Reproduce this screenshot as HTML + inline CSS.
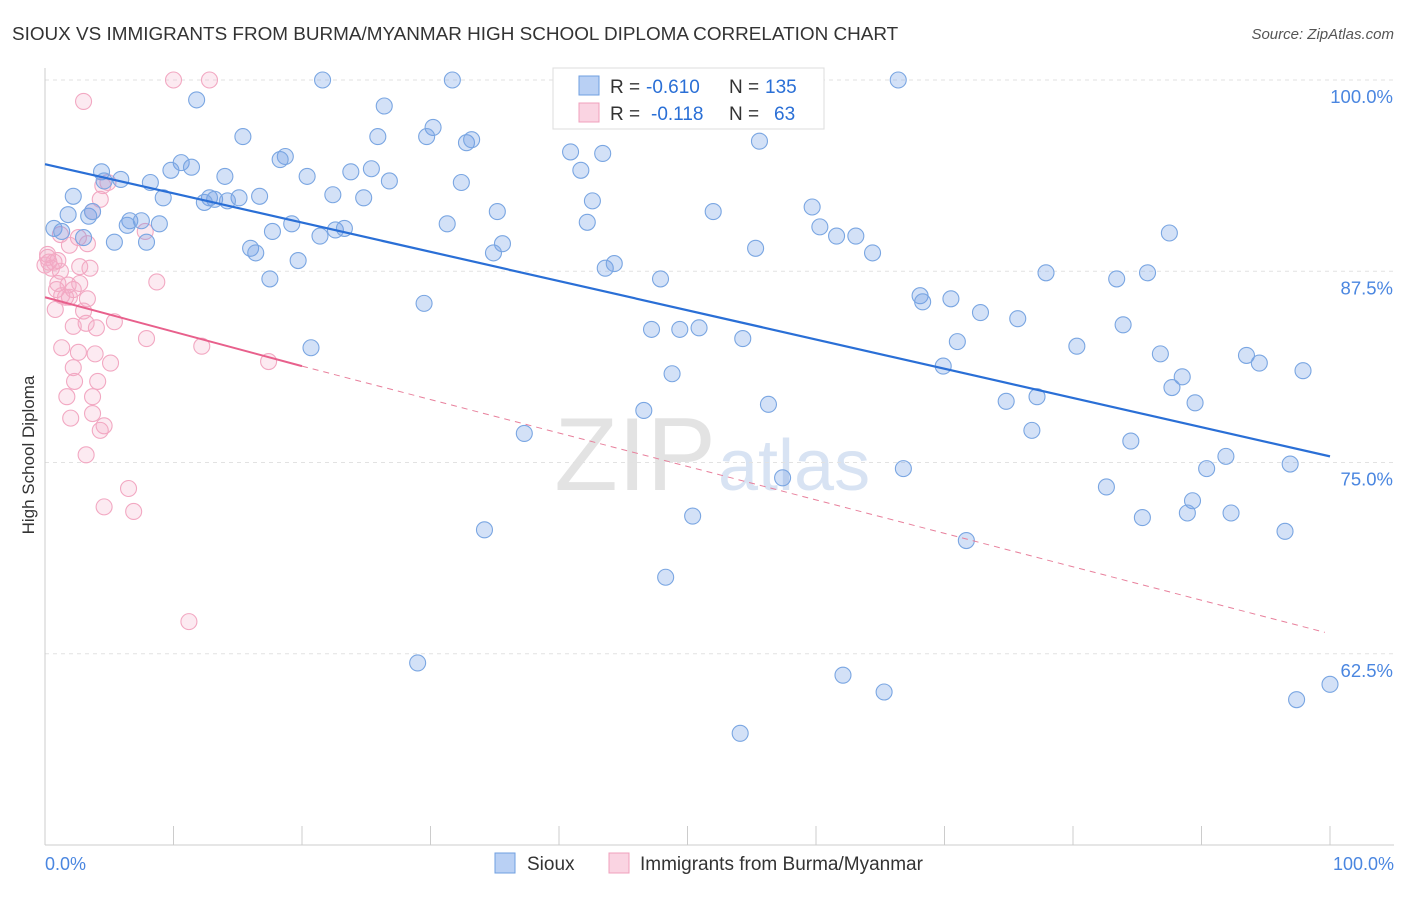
<!DOCTYPE html>
<html><head><meta charset="utf-8"><style>
body{margin:0;background:#fff;font-family:"Liberation Sans",sans-serif;}
svg text{font-family:"Liberation Sans",sans-serif;}
</style></head><body>
<svg id="chart" width="1406" height="892" xmlns="http://www.w3.org/2000/svg">
<text x="12" y="40" font-size="18.9" fill="#333">SIOUX VS IMMIGRANTS FROM BURMA/MYANMAR HIGH SCHOOL DIPLOMA CORRELATION CHART</text>
<text x="1394" y="39" font-size="15" fill="#555" text-anchor="end" font-style="italic">Source: ZipAtlas.com</text>
<text transform="translate(34,455) rotate(-90)" font-size="17" fill="#333" text-anchor="middle">High School Diploma</text>
<text x="716" y="490" font-size="104" fill="#ddd" text-anchor="end" font-family="Liberation Serif" opacity="0.8">ZIP</text>
<text x="718" y="490" font-size="72" fill="#c8d8ee" opacity="0.7">atlas</text>
<g id="grid"></g><g id="axes"></g><g id="pinkpts"></g><g id="bluepts"></g><g id="trends"></g>
<g>
<rect x="553" y="68" width="271" height="61" fill="#fff" stroke="#ddd"/>
<rect x="579" y="76" width="20" height="19" fill="rgba(100,150,230,0.45)" stroke="#6f9fe0"/>
<rect x="579" y="103" width="20" height="19" fill="rgba(245,160,190,0.45)" stroke="#f0a0bc"/>
<text x="610" y="93" font-size="19" fill="#333">R =</text>
<text x="646" y="93" font-size="19" fill="#2a6fd6">-0.610</text>
<text x="729" y="93" font-size="19" fill="#333">N =</text>
<text x="765" y="93" font-size="19" fill="#2a6fd6">135</text>
<text x="610" y="120" font-size="19" fill="#333">R =</text>
<text x="651" y="120" font-size="19" fill="#2a6fd6">-0.118</text>
<text x="729" y="120" font-size="19" fill="#333">N =</text>
<text x="774" y="120" font-size="19" fill="#2a6fd6">63</text>
</g>
<g>
<rect x="495" y="853" width="20" height="20" fill="rgba(100,150,230,0.45)" stroke="#6f9fe0"/>
<text x="527" y="870" font-size="19" fill="#333">Sioux</text>
<rect x="609" y="853" width="20" height="20" fill="rgba(245,160,190,0.45)" stroke="#f0a0bc"/>
<text x="640" y="870" font-size="19" fill="#333">Immigrants from Burma/Myanmar</text>
</g>
</svg>
<script>
const blueX=[21.6,31.7,45.4,66.4,11.8,26.4,30.2,15.4,25.9,29.7,32.8,33.2,55.6,40.9,43.4,10.6,4.4,9.8,11.4,18.7,18.3,25.4,23.8,20.4,14.0,5.9,4.6,8.2,26.8,32.4,41.7,2.2,9.2,12.8,15.1,16.7,13.2,12.4,14.2,22.4,24.8,42.6,1.8,3.4,3.7,6.6,7.5,6.4,8.9,35.2,52.0,59.7,0.7,1.3,3.0,5.4,7.9,17.7,19.2,21.4,22.6,23.3,31.3,42.2,60.3,61.6,63.1,87.5,16.0,16.4,35.6,34.9,55.3,64.4,19.7,17.5,43.6,44.3,47.9,77.9,83.4,85.8,29.5,68.1,68.3,70.5,72.8,75.7,47.2,49.4,50.9,54.3,71.0,83.9,20.7,80.3,86.8,93.5,94.5,69.9,97.9,48.8,88.5,87.7,46.6,56.3,74.8,77.2,89.5,37.3,76.8,84.5,91.9,57.4,66.8,90.4,96.9,82.6,89.3,50.4,85.4,88.9,92.3,34.2,96.5,71.7,48.3,29.0,62.1,65.3,97.4,100.0,54.1];
const blueY=[100,100,100,100,98.7,98.3,96.9,96.3,96.3,96.3,95.9,96.1,96.0,95.3,95.2,94.6,94.0,94.1,94.3,95.0,94.8,94.2,94.0,93.7,93.7,93.5,93.4,93.3,93.4,93.3,94.1,92.4,92.3,92.3,92.3,92.4,92.2,92.0,92.1,92.5,92.3,92.1,91.2,91.1,91.4,90.8,90.8,90.5,90.6,91.4,91.4,91.7,90.3,90.1,89.7,89.4,89.4,90.1,90.6,89.8,90.2,90.3,90.6,90.7,90.4,89.8,89.8,90.0,89.0,88.7,89.3,88.7,89.0,88.7,88.2,87.0,87.7,88.0,87.0,87.4,87.0,87.4,85.4,85.9,85.5,85.7,84.8,84.4,83.7,83.7,83.8,83.1,82.9,84.0,82.5,82.6,82.1,82.0,81.5,81.3,81.0,80.8,80.6,79.9,78.4,78.8,79.0,79.3,78.9,76.9,77.1,76.4,75.4,74.0,74.6,74.6,74.9,73.4,72.5,71.5,71.4,71.7,71.7,70.6,70.5,69.9,67.5,61.9,61.1,60.0,59.5,60.5,57.3];
const pinkX=[10.0,12.8,3.0,4.5,4.3,4.9,3.7,1.2,1.9,3.3,2.6,7.8,0.2,0.7,0,0.5,1.2,2.7,3.5,1.0,1.8,2.7,8.7,1.3,1.9,3.3,0.8,3.0,2.2,3.2,4.0,5.4,7.9,12.2,1.3,2.6,3.9,5.1,17.4,2.2,2.3,4.1,1.7,3.7,3.7,2.0,4.6,4.3,3.2,6.5,4.6,6.9,11.2,0.2,0.9,1.6,2.2,0.3,1.0];
const pinkY=[100,100,98.6,93.1,92.2,93.3,91.4,89.9,89.2,89.3,89.7,90.1,88.4,88.1,87.9,87.7,87.5,87.8,87.7,86.7,86.6,86.7,86.8,85.9,85.8,85.7,85.0,84.9,83.9,84.1,83.8,84.2,83.1,82.6,82.5,82.2,82.1,81.5,81.6,81.2,80.3,80.3,79.3,79.3,78.2,77.9,77.4,77.1,75.5,73.3,72.1,71.8,64.6,88.6,86.3,85.8,86.3,88.1,88.2];
const yTicks=[100,87.5,75,62.5];
const yTickLabels=["100.0%","87.5%","75.0%","62.5%"];
const blueTrend=[[0,94.5],[100,75.4]];
const pinkTrend=[[0,85.8],[20,81.3],[99.6,63.9]];
const NS="http://www.w3.org/2000/svg";
const X=v=>45+v*12.85, Y=v=>80+(100-v)*15.3;
function mk(t,a,p){const e=document.createElementNS(NS,t);for(const k in a)e.setAttribute(k,a[k]);p.appendChild(e);return e;}
const grid=document.getElementById('grid'),axes=document.getElementById('axes');
yTicks.forEach((t,i)=>{
 const l=mk('line',{x1:45,x2:1394,y1:Y(t),y2:Y(t),stroke:'#e2e2e2','stroke-dasharray':'4,4'},grid);
 
 
 const tx=mk('text',{x:1393,y:Y(t)+23,'font-size':18.5,fill:'#4a86e0','text-anchor':'end'},axes);
 tx.textContent=yTickLabels[i];
 
 
});
mk('line',{x1:45,x2:45,y1:68,y2:845,stroke:'#ccc'},axes);
mk('line',{x1:45,x2:1394,y1:845,y2:845,stroke:'#ccc'},axes);
for(let i=0;i<=10;i++){const t=mk('line',{x1:X(i*10),x2:X(i*10),y1:826,y2:845,stroke:'#ccc'},axes);
 
 }
const xl=mk('text',{x:45,y:870,'font-size':18,fill:'#4a86e0'},axes);xl.textContent='0.0%';


const xr=mk('text',{x:1394,y:870,'font-size':18,fill:'#4a86e0','text-anchor':'end'},axes);xr.textContent='100.0%';


const pg=document.getElementById('pinkpts');
pinkX.forEach((x,i)=>{const c=mk('circle',{cx:X(x),cy:Y(pinkY[i]),r:8,fill:'rgba(245,170,198,0.25)',stroke:'#f2a8c2','stroke-width':1.1},pg);
 
 });
const bg=document.getElementById('bluepts');
blueX.forEach((x,i)=>{const c=mk('circle',{cx:X(x),cy:Y(blueY[i]),r:8,fill:'rgba(110,155,230,0.3)',stroke:'#7aa6e2','stroke-width':1.1},bg);
 
 });
const tg=document.getElementById('trends');
const bt=mk('line',{x1:X(blueTrend[0][0]),y1:Y(blueTrend[0][1]),x2:X(blueTrend[1][0]),y2:Y(blueTrend[1][1]),stroke:'#2a6fd6','stroke-width':2.2},tg);


const pt=mk('line',{x1:X(pinkTrend[0][0]),y1:Y(pinkTrend[0][1]),x2:X(pinkTrend[1][0]),y2:Y(pinkTrend[1][1]),stroke:'#e8608c','stroke-width':2},tg);


const pd=mk('line',{x1:X(pinkTrend[1][0]),y1:Y(pinkTrend[1][1]),x2:X(pinkTrend[2][0]),y2:Y(pinkTrend[2][1]),stroke:'#e8809c','stroke-width':1,'stroke-dasharray':'6,5'},tg);


</script>
</body></html>
